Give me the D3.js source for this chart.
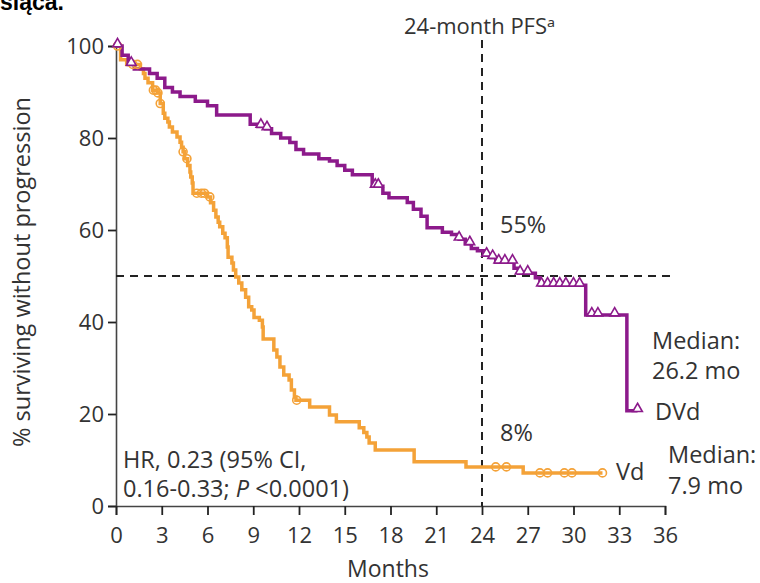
<!DOCTYPE html>
<html>
<head>
<meta charset="utf-8">
<script src="https://cdn.jsdelivr.net/npm/d3@7"></script>
<style>
  body { margin: 0; background: #fff; }
  svg { display: block; }
  text { font-family: "Open Sans", "Noto Sans", sans-serif; fill: #333; }
</style>
</head>
<body>
<div id="chart"></div>
<script>
// x axis ticks (months) and y axis ticks (%)
const monthTicks = [0, 3, 6, 9, 12, 15, 18, 21, 24, 27, 30, 33, 36];
const pctTicks = [0, 20, 40, 60, 80, 100];

// DVd: step times (months) and survival (%) after each step
const dvdTimes = [0, 0.4, 0.8, 1.2, 2.2, 2.7, 3.2, 3.7, 4.2, 5.2, 6.0, 6.6, 8.8, 9.3, 9.8, 10.2, 10.8, 11.4, 11.8, 12.3,
  13.3, 14.0, 14.5, 15.0, 15.5, 16.8, 17.5, 17.9, 19.1, 19.5, 20.0, 20.4, 21.4, 22.0, 22.5, 22.9, 23.3, 23.7,
  24.1, 24.6, 24.9, 26.1, 26.4, 27.5, 27.8, 30.8, 33.5];
const dvdSurv = [100, 98, 96, 95, 94, 93, 91, 90, 89, 88, 87, 85, 83, 82.5, 82, 81, 80, 79, 77.5, 76.5,
  75.5, 75, 74, 73, 72, 69.5, 68, 67, 66, 64.5, 63, 60.5, 59.5, 59, 58, 57, 56, 55.5,
  54.5, 54, 53, 51.7, 50.6, 49.6, 48, 41.5, 20.7];
const dvdEnd = 34.2;
const dvdCensored = [0.1, 1.0, 9.5, 9.9, 17.0, 17.2, 22.5, 23.2, 24.3, 24.7, 25.1, 25.5, 26.0, 26.5, 27.0,
  27.9, 28.3, 28.7, 29.1, 29.5, 30.0, 30.4, 31.2, 31.6, 32.7, 34.2];

// Vd: step times (months) and survival (%)
const vdTimes = [0, 0.3, 0.7, 1.6, 1.8, 1.9, 2.1, 2.4, 2.7, 2.9, 3.1, 3.2, 3.4, 3.5, 3.7, 4.0, 4.2, 4.3, 4.4,
  4.5, 4.7, 4.85, 4.9, 5.0, 5.05, 6.0, 6.2, 6.4, 6.55, 6.7, 6.8, 7.0, 7.15, 7.3, 7.35, 7.6, 7.7, 7.85, 8.05,
  8.25, 8.5, 8.7, 8.9, 9.05, 9.4, 9.6, 9.65, 10.35, 10.55, 10.75, 11.0, 11.35, 11.5, 11.7, 11.8, 12.7,
  14.0, 14.45, 15.95, 16.25, 16.45, 16.6, 17.0, 19.55, 22.95, 26.7];
const vdSurv = [100, 97, 96, 95, 94, 93, 92, 90.4, 89.8, 87.5, 85.4, 84.3, 83.5, 82.4, 81.3, 80.2, 79.1, 78, 77,
  75.5, 74, 72.6, 71.5, 70.2, 68, 67.2, 65.9, 64.3, 62.8, 61.7, 60.7, 59.3, 58.3, 56.3, 54.1, 52.8, 51.3, 49.8, 48.5,
  47, 45.4, 43.3, 42.6, 41, 40.4, 38.9, 36.3, 33.9, 32.4, 30.2, 28.5, 27.4, 25.2, 23.7, 23, 21.5,
  19.8, 18.3, 17, 16, 15, 13.7, 12.2, 9.6, 8.5, 7.2];
const vdEnd = 31.9;
const vdCensored = [0.1, 1.1, 1.4, 2.45, 2.6, 2.75, 2.9, 4.4, 4.65, 5.3, 5.6, 5.8, 6.15, 11.85,
  24.9, 25.6, 27.8, 28.3, 29.4, 29.9, 31.9];

const purple = "#8c1a8b", orange = "#f4a238";
const width = 760, height = 583;

const svg = d3.select("#chart").append("svg").attr("width", width).attr("height", height);
const x = d3.scaleLinear().domain([0, 36]).range([116, 665]);
const y = d3.scaleLinear().domain([0, 100]).range([506, 46]);

// cut-off caption above the chart
svg.append("text").attr("x", 0).attr("y", 10)
  .style("font-family", "Liberation Sans, Arial, sans-serif")
  .style("font-weight", "bold").style("font-size", "23px").style("fill", "#000")
  .text("siąca.");

// axes
const yAxis = svg.append("g").attr("transform", "translate(116,0)")
  .call(d3.axisLeft(y).tickValues(pctTicks).tickSize(8).tickPadding(4));
const xAxis = svg.append("g").attr("transform", "translate(0,506)")
  .call(d3.axisBottom(x).tickValues(monthTicks).tickSize(9).tickPadding(12));
[yAxis, xAxis].forEach(g => {
  g.select(".domain").attr("stroke", "#444").attr("stroke-width", 1.6);
  g.selectAll(".tick line").attr("stroke", "#222").attr("stroke-width", 1.8);
  g.selectAll(".tick text").style("font-size", "22px").style("fill", "#333")
    .style("font-family", "\"Open Sans\", sans-serif");
});
yAxis.selectAll(".tick text").attr("dy", "0.36em");

// reference lines
svg.append("line").attr("x1", x(24)).attr("x2", x(24)).attr("y1", 40).attr("y2", y(0))
  .attr("stroke", "#222").attr("stroke-width", 2).attr("stroke-dasharray", "8,6");
svg.append("line").attr("x1", x(0)).attr("x2", 672).attr("y1", y(50)).attr("y2", y(50))
  .attr("stroke", "#222").attr("stroke-width", 2).attr("stroke-dasharray", "8,6");

// curves
function stepPoints(times, surv, end) {
  const pts = times.map((t, i) => [t, surv[i]]);
  pts.push([end, surv[surv.length - 1]]);
  return pts;
}
function survAt(times, surv, t) {
  const i = d3.bisectRight(times, t) - 1;
  return surv[Math.max(0, i)];
}
const line = d3.line().x(d => x(d[0])).y(d => y(d[1])).curve(d3.curveStepAfter);

svg.append("path").datum(stepPoints(vdTimes, vdSurv, vdEnd))
  .attr("d", line).attr("fill", "none").attr("stroke", orange).attr("stroke-width", 3.5);
svg.append("path").datum(stepPoints(dvdTimes, dvdSurv, dvdEnd))
  .attr("d", line).attr("fill", "none").attr("stroke", purple).attr("stroke-width", 3.5);

// censor marks
svg.append("g").selectAll("circle").data(vdCensored).join("circle")
  .attr("cx", d => x(d)).attr("cy", d => y(survAt(vdTimes, vdSurv, d)))
  .attr("r", 4).attr("fill", "none").attr("stroke", orange).attr("stroke-width", 1.6);
const tri = d3.symbol().type(d3.symbolTriangle).size(40);
svg.append("g").selectAll("path").data(dvdCensored).join("path")
  .attr("transform", d => `translate(${x(d)},${y(survAt(dvdTimes, dvdSurv, d)) - 2})`)
  .attr("d", tri).attr("fill", "#fff").attr("stroke", purple).attr("stroke-width", 1.6);

// annotations
const ann = [
  { t: "55%", x: 500, y: 233 },
  { t: "8%", x: 500, y: 441 },
  { t: "Median:", x: 652, y: 349 },
  { t: "26.2 mo", x: 652, y: 379 },
  { t: "DVd", x: 655, y: 420 },
  { t: "Vd", x: 616, y: 480 },
  { t: "Median:", x: 668, y: 463 },
  { t: "7.9 mo", x: 668, y: 494 },
  { t: "HR, 0.23 (95% CI,", x: 123, y: 468 }
];
svg.append("g").selectAll("text").data(ann).join("text")
  .attr("x", d => d.x).attr("y", d => d.y).style("font-size", "23.5px").text(d => d.t);

svg.append("text").attr("x", 404).attr("y", 34).style("font-size", "22px").text("24-month PFSᵃ");

const hr2 = svg.append("text").attr("x", 123).attr("y", 497).style("font-size", "23.5px");
hr2.append("tspan").text("0.16-0.33; ");
hr2.append("tspan").style("font-style", "italic").text("P");
hr2.append("tspan").text(" <0.0001)");

// axis titles
svg.append("text").attr("transform", "translate(30,272) rotate(-90)")
  .attr("text-anchor", "middle").style("font-size", "23.5px").text("% surviving without progression");
svg.append("text").attr("x", 388).attr("y", 577)
  .attr("text-anchor", "middle").style("font-size", "23px").text("Months");
</script>
</body>
</html>
